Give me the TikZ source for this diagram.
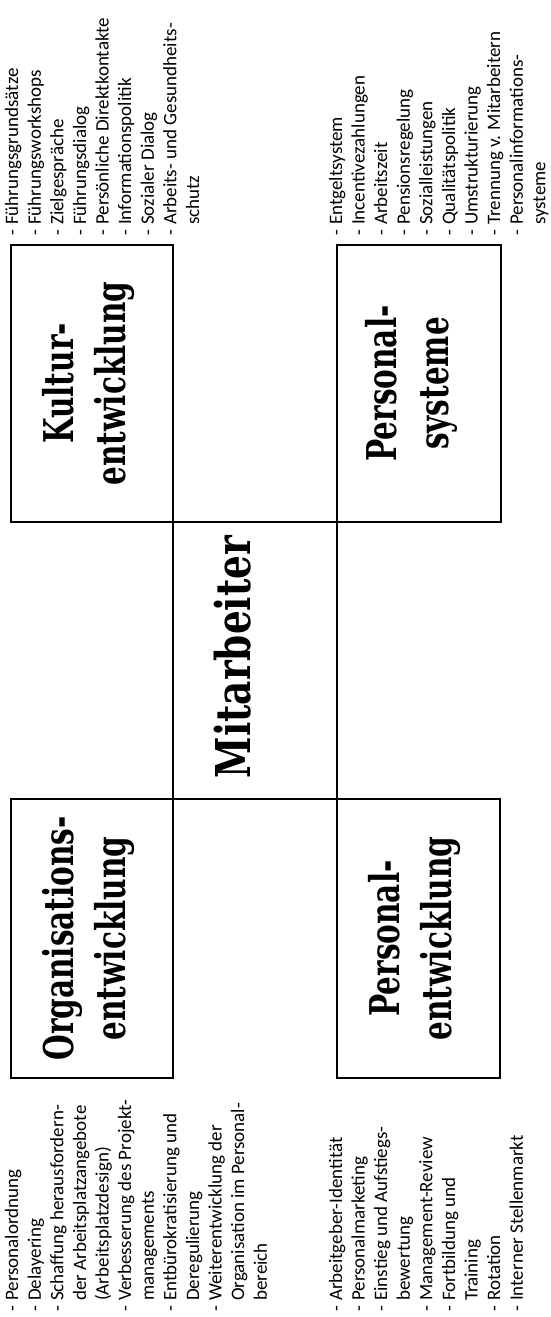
\documentclass[tikz,border=0pt]{standalone}
\usepackage{fontspec}
\setmainfont{Carlito}
\newfontfamily\titlefont[FakeStretch=0.72]{DejaVu Serif}
\newfontfamily\centerfont[FakeStretch=0.78]{DejaVu Serif}
\newcommand\li{\makebox[12pt][l]{\hspace{1pt}-}}
\newcommand\ind{\makebox[12pt]{}}
\tikzset{
  box/.style={draw, line width=1.2pt, inner sep=0pt},
  titletext/.style={rotate=90, align=center, inner sep=0pt,
    font=\titlefont\bfseries\fontsize{41}{52}\selectfont},
  centertext/.style={rotate=90, anchor=base, inner sep=0pt,
    font=\centerfont\bfseries\fontsize{48}{52}\selectfont},
  listtext/.style={rotate=90, anchor=north west, align=left, inner sep=0pt,
    font=\fontsize{19}{22.6}\selectfont}
}
\begin{document}
\begin{tikzpicture}[x=1pt,y=-1pt]
\useasboundingbox (0,0) rectangle (550,1317);
% boxes
\node[box, minimum width=162pt, minimum height=277pt] (kul) at (92,383.5) {};
\node[box, minimum width=164pt, minimum height=277pt] (psy) at (419,383.5) {};
\node[box, minimum width=162pt, minimum height=279pt] (org) at (92,938.5) {};
\node[box, minimum width=163pt, minimum height=279pt] (pen) at (418.5,938.5) {};
\node[box, minimum width=164pt, minimum height=277pt] (mit) at (255,660.5) {};
% titles
\node[titletext] (kult) at ([xshift=-4pt]kul.center) {Kultur-\\entwicklung};
\node[titletext] (psyt) at ([xshift=-8pt]psy.center) {Personal-\\systeme};
\node[titletext] (orgt) at ([xshift=-4pt]org.center) {Organisations-\\entwicklung};
\node[titletext] (pent) at ([xshift=-4pt]pen.center) {Personal-\\entwicklung};
\node[centertext] (mitt) at (250,657) {Mitarbeiter};
% lists
\node[listtext] (orgl) at (2.2,1313) {\strut\li Personalordnung\\
\li Delayering\\
\li Schaffung herausfordern-\\
\ind der Arbeitsplatzangebote\\
\ind (Arbeitsplatzdesign)\\
\li Verbesserung des Projekt-\\
\ind managements\\
\li Entbürokratisierung und\\
\ind Deregulierung\\
\li Weiterentwicklung der\\
\ind Organisation im Personal-\\
\ind bereich};
\node[listtext] (penl) at (326,1313) {\strut\li Arbeitgeber-Identität\\
\li Personalmarketing\\
\li Einstieg und Aufstiegs-\\
\ind bewertung\\
\li Management-Review\\
\li Fortbildung und\\
\ind Training\\
\li Rotation\\
\li Interner Stellenmarkt};
\node[listtext] (kull) at (2.2,237) {\strut\li Führungsgrundsätze\\
\li Führungsworkshops\\
\li Zielgespräche\\
\li Führungsdialog\\
\li Persönliche Direktkontakte\\
\li Informationspolitik\\
\li Sozialer Dialog\\
\li Arbeits- und Gesundheits-\\
\ind schutz};
\node[listtext] (psyl) at (326,237) {\strut\li Entgeltsystem\\
\li Incentivezahlungen\\
\li Arbeitszeit\\
\li Pensionsregelung\\
\li Sozialleistungen\\
\li Qualitätspolitik\\
\li Umstrukturierung\\
\li Trennung v. Mitarbeitern\\
\li Personalinformations-\\
\ind systeme};
\end{tikzpicture}
\end{document}
